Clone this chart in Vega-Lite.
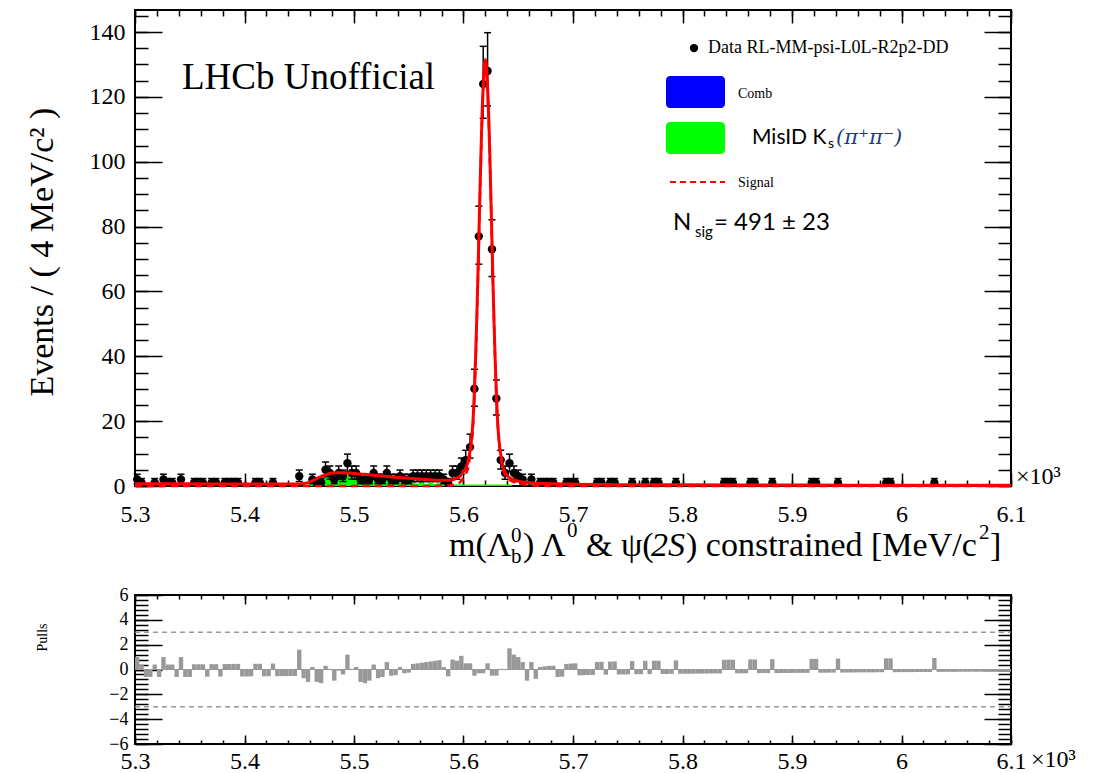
{
"$schema":"https://vega.github.io/schema/vega-lite/v6.json",
"background":"white",
"padding":{"left":23,"top":8,"right":5,"bottom":0},
"spacing":109,
"bounds":"flush",
"config":{"view":{"stroke":"black","strokeWidth":2},"style":{"guide-label":{"font":"Liberation Serif","fill":"black"},"guide-title":{"font":"Liberation Serif","fill":"black","fontWeight":"normal"}},"axis":{"labelFont":"Liberation Serif","titleFont":"Liberation Serif","labelColor":"black","titleColor":"black","tickColor":"black","domain":false,"grid":false,"titleFontWeight":"normal","labelFlush":false,"labelOverlap":false,"tickCap":"butt"}},
"datasets":{
"pts":[
{"m":5.302,"n":2,"lo":0.708,"hi":3.638},{"m":5.306,"n":1,"lo":0.173,"hi":2.3},{"m":5.318,"n":1,"lo":0.173,"hi":2.3},{"m":5.326,"n":2,"lo":0.708,"hi":3.638},{"m":5.330,"n":1,"lo":0.173,"hi":2.3},{"m":5.334,"n":1,"lo":0.173,"hi":2.3},{"m":5.342,"n":2,"lo":0.708,"hi":3.638},{"m":5.354,"n":1,"lo":0.173,"hi":2.3},{"m":5.358,"n":1,"lo":0.173,"hi":2.3},{"m":5.362,"n":1,"lo":0.173,"hi":2.3},{"m":5.370,"n":1,"lo":0.173,"hi":2.3},{"m":5.374,"n":1,"lo":0.173,"hi":2.3},{"m":5.382,"n":1,"lo":0.173,"hi":2.3},{"m":5.386,"n":1,"lo":0.173,"hi":2.3},{"m":5.390,"n":1,"lo":0.173,"hi":2.3},{"m":5.394,"n":1,"lo":0.173,"hi":2.3},{"m":5.410,"n":1,"lo":0.173,"hi":2.3},{"m":5.414,"n":1,"lo":0.173,"hi":2.3},{"m":5.426,"n":1,"lo":0.173,"hi":2.3},
{"m":5.450,"n":3,"lo":1.367,"hi":4.918},{"m":5.462,"n":2,"lo":0.708,"hi":3.638},{"m":5.466,"n":1,"lo":0.173,"hi":2.3},{"m":5.470,"n":1,"lo":0.173,"hi":2.3},{"m":5.474,"n":5,"lo":2.84,"hi":7.404},{"m":5.478,"n":4,"lo":2.086,"hi":6.172},{"m":5.482,"n":2,"lo":0.708,"hi":3.638},{"m":5.486,"n":4,"lo":2.086,"hi":6.172},{"m":5.490,"n":3,"lo":1.367,"hi":4.918},{"m":5.494,"n":7,"lo":4.419,"hi":9.828},{"m":5.498,"n":4,"lo":2.086,"hi":6.172},{"m":5.502,"n":4,"lo":2.086,"hi":6.172},{"m":5.506,"n":2,"lo":0.708,"hi":3.638},{"m":5.510,"n":2,"lo":0.708,"hi":3.638},{"m":5.514,"n":2,"lo":0.708,"hi":3.638},{"m":5.518,"n":4,"lo":2.086,"hi":6.172},{"m":5.522,"n":2,"lo":0.708,"hi":3.638},{"m":5.526,"n":2,"lo":0.708,"hi":3.638},{"m":5.530,"n":4,"lo":2.086,"hi":6.172},{"m":5.534,"n":2,"lo":0.708,"hi":3.638},{"m":5.538,"n":2,"lo":0.708,"hi":3.638},{"m":5.542,"n":3,"lo":1.367,"hi":4.918},{"m":5.546,"n":2,"lo":0.708,"hi":3.638},{"m":5.550,"n":2,"lo":0.708,"hi":3.638},{"m":5.554,"n":3,"lo":1.367,"hi":4.918},{"m":5.558,"n":3,"lo":1.367,"hi":4.918},{"m":5.562,"n":3,"lo":1.367,"hi":4.918},{"m":5.566,"n":3,"lo":1.367,"hi":4.918},{"m":5.570,"n":3,"lo":1.367,"hi":4.918},{"m":5.574,"n":3,"lo":1.367,"hi":4.918},{"m":5.578,"n":3,"lo":1.367,"hi":4.918},{"m":5.582,"n":2,"lo":0.708,"hi":3.638},{"m":5.586,"n":1,"lo":0.173,"hi":2.3},{"m":5.590,"n":4,"lo":2.086,"hi":6.172},{"m":5.594,"n":4,"lo":2.086,"hi":6.172},{"m":5.598,"n":6,"lo":3.62,"hi":8.624},
{"m":5.602,"n":8,"lo":5.232,"hi":11.03},{"m":5.606,"n":12,"lo":8.6,"hi":16.0},{"m":5.610,"n":30,"lo":24.6,"hi":36.0},{"m":5.614,"n":77,"lo":68.4,"hi":86.3},{"m":5.618,"n":124,"lo":113.4,"hi":135.6},{"m":5.622,"n":128,"lo":117.2,"hi":139.8},{"m":5.626,"n":73,"lo":64.6,"hi":82.1},{"m":5.630,"n":27,"lo":21.9,"hi":32.7},{"m":5.634,"n":8,"lo":5.232,"hi":11.03},{"m":5.638,"n":4,"lo":2.086,"hi":6.172},{"m":5.642,"n":7,"lo":4.419,"hi":9.828},{"m":5.646,"n":4,"lo":2.086,"hi":6.172},{"m":5.650,"n":3,"lo":1.367,"hi":4.918},{"m":5.654,"n":2,"lo":0.708,"hi":3.638},{"m":5.662,"n":2,"lo":0.708,"hi":3.638},{"m":5.670,"n":1,"lo":0.173,"hi":2.3},{"m":5.674,"n":1,"lo":0.173,"hi":2.3},{"m":5.678,"n":1,"lo":0.173,"hi":2.3},{"m":5.682,"n":1,"lo":0.173,"hi":2.3},{"m":5.694,"n":1,"lo":0.173,"hi":2.3},{"m":5.698,"n":1,"lo":0.173,"hi":2.3},{"m":5.702,"n":1,"lo":0.173,"hi":2.3},
{"m":5.722,"n":1,"lo":0.173,"hi":2.3},{"m":5.726,"n":1,"lo":0.173,"hi":2.3},{"m":5.734,"n":1,"lo":0.173,"hi":2.3},{"m":5.738,"n":1,"lo":0.173,"hi":2.3},{"m":5.754,"n":1,"lo":0.173,"hi":2.3},{"m":5.766,"n":1,"lo":0.173,"hi":2.3},{"m":5.774,"n":1,"lo":0.173,"hi":2.3},{"m":5.778,"n":1,"lo":0.173,"hi":2.3},{"m":5.794,"n":1,"lo":0.173,"hi":2.3},{"m":5.838,"n":1,"lo":0.173,"hi":2.3},{"m":5.842,"n":1,"lo":0.173,"hi":2.3},{"m":5.846,"n":1,"lo":0.173,"hi":2.3},{"m":5.862,"n":1,"lo":0.173,"hi":2.3},{"m":5.866,"n":1,"lo":0.173,"hi":2.3},{"m":5.882,"n":1,"lo":0.173,"hi":2.3},{"m":5.918,"n":1,"lo":0.173,"hi":2.3},{"m":5.922,"n":1,"lo":0.173,"hi":2.3},{"m":5.942,"n":1,"lo":0.173,"hi":2.3},{"m":5.986,"n":1,"lo":0.173,"hi":2.3},{"m":5.990,"n":1,"lo":0.173,"hi":2.3},{"m":6.030,"n":1,"lo":0.173,"hi":2.3}
],
"curve":[
{"m":5.3,"v":0.7},{"m":5.35,"v":0.66},{"m":5.4,"v":0.62},{"m":5.44,"v":0.59},{"m":5.45,"v":0.6},{"m":5.454,"v":0.75},{"m":5.458,"v":1.05},{"m":5.462,"v":1.6},{"m":5.466,"v":2.3},{"m":5.47,"v":2.95},{"m":5.474,"v":3.45},{"m":5.478,"v":3.85},{"m":5.482,"v":4.05},{"m":5.486,"v":4.1},{"m":5.49,"v":4.1},{"m":5.495,"v":4.0},{"m":5.5,"v":3.85},{"m":5.51,"v":3.6},{"m":5.52,"v":3.25},{"m":5.53,"v":2.95},{"m":5.54,"v":2.65},{"m":5.55,"v":2.4},{"m":5.56,"v":2.15},{"m":5.57,"v":1.9},{"m":5.58,"v":1.75},{"m":5.585,"v":1.75},{"m":5.59,"v":1.95},{"m":5.594,"v":2.5},{"m":5.597,"v":3.1},{"m":5.6,"v":4.5},{"m":5.602,"v":5.5},{"m":5.604,"v":7.3},{"m":5.605,"v":8.9},{"m":5.606,"v":11.0},{"m":5.607,"v":13.3},{"m":5.608,"v":17.0},{"m":5.609,"v":22.0},{"m":5.61,"v":29.7},{"m":5.611,"v":39.2},{"m":5.612,"v":50.3},{"m":5.613,"v":62.8},{"m":5.614,"v":76.5},{"m":5.615,"v":90.2},{"m":5.616,"v":103.4},{"m":5.617,"v":115.0},{"m":5.618,"v":123.7},{"m":5.619,"v":129.5},{"m":5.62,"v":131.5},{"m":5.621,"v":129.3},{"m":5.622,"v":123.2},{"m":5.623,"v":114.3},{"m":5.624,"v":102.6},{"m":5.625,"v":89.3},{"m":5.626,"v":75.6},{"m":5.627,"v":61.9},{"m":5.628,"v":49.3},{"m":5.629,"v":38.2},{"m":5.63,"v":28.7},{"m":5.631,"v":21.0},{"m":5.632,"v":15.8},{"m":5.633,"v":12.2},{"m":5.634,"v":9.8},{"m":5.635,"v":7.6},{"m":5.636,"v":6.0},{"m":5.638,"v":4.2},{"m":5.64,"v":3.2},{"m":5.642,"v":2.6},{"m":5.646,"v":1.9},{"m":5.65,"v":1.5},{"m":5.656,"v":1.15},{"m":5.662,"v":0.95},{"m":5.67,"v":0.85},{"m":5.68,"v":0.72},{"m":5.69,"v":0.62},{"m":5.7,"v":0.55},{"m":5.72,"v":0.45},{"m":5.75,"v":0.4},{"m":5.8,"v":0.35},{"m":5.85,"v":0.31},{"m":5.9,"v":0.28},{"m":5.95,"v":0.25},{"m":6.0,"v":0.23},{"m":6.05,"v":0.21},{"m":6.1,"v":0.2}
],
"sig":[
{"m":5.3,"v":0},{"m":5.575,"v":0},{"m":5.585,"v":0.15},{"m":5.59,"v":0.3},{"m":5.594,"v":0.7},{"m":5.597,"v":1.2},{"m":5.6,"v":2.6},{"m":5.602,"v":3.6},{"m":5.604,"v":5.5},{"m":5.605,"v":7.1},{"m":5.606,"v":9.3},{"m":5.607,"v":11.6},{"m":5.608,"v":15.3},{"m":5.609,"v":20.3},{"m":5.61,"v":28.0},{"m":5.611,"v":37.5},{"m":5.612,"v":48.6},{"m":5.613,"v":61.1},{"m":5.614,"v":74.8},{"m":5.615,"v":88.5},{"m":5.616,"v":101.7},{"m":5.617,"v":113.3},{"m":5.618,"v":122.2},{"m":5.619,"v":128.0},{"m":5.62,"v":130.0},{"m":5.621,"v":128.0},{"m":5.622,"v":122.2},{"m":5.623,"v":113.3},{"m":5.624,"v":101.7},{"m":5.625,"v":88.5},{"m":5.626,"v":74.8},{"m":5.627,"v":61.1},{"m":5.628,"v":48.6},{"m":5.629,"v":37.5},{"m":5.63,"v":28.0},{"m":5.631,"v":20.3},{"m":5.632,"v":15.1},{"m":5.633,"v":11.5},{"m":5.634,"v":9.1},{"m":5.635,"v":6.9},{"m":5.636,"v":5.3},{"m":5.638,"v":3.5},{"m":5.64,"v":2.5},{"m":5.642,"v":1.9},{"m":5.646,"v":1.2},{"m":5.65,"v":0.8},{"m":5.656,"v":0.45},{"m":5.662,"v":0.25},{"m":5.67,"v":0.1},{"m":5.69,"v":0},{"m":6.1,"v":0}
],
"mis":[
{"lo":5.3,"g":0},{"lo":5.456,"g":0.5},{"lo":5.46,"g":1.0},{"lo":5.464,"g":1.6},{"lo":5.468,"g":1.8},{"lo":5.472,"g":2.6},{"lo":5.476,"g":3.0},{"lo":5.48,"g":2.4},{"lo":5.484,"g":3.2},{"lo":5.488,"g":2.6},{"lo":5.492,"g":3.4},{"lo":5.496,"g":2.8},{"lo":5.5,"g":2.2},{"lo":5.504,"g":2.9},{"lo":5.508,"g":2.0},{"lo":5.512,"g":2.5},{"lo":5.516,"g":1.6},{"lo":5.52,"g":2.2},{"lo":5.524,"g":1.4},{"lo":5.528,"g":1.9},{"lo":5.532,"g":1.2},{"lo":5.536,"g":1.7},{"lo":5.54,"g":1.0},{"lo":5.544,"g":1.5},{"lo":5.548,"g":0.9},{"lo":5.552,"g":1.3},{"lo":5.556,"g":0.8},{"lo":5.56,"g":1.2},{"lo":5.564,"g":0.7},{"lo":5.568,"g":1.0},{"lo":5.572,"g":0.6},{"lo":5.576,"g":0.9},{"lo":5.58,"g":0.6},{"lo":5.584,"g":0.7},{"lo":5.588,"g":0.5},{"lo":5.592,"g":0.5},{"lo":5.596,"g":0.45},{"lo":5.644,"g":0},{"lo":6.1,"g":0}
],
"pull":[
{"lo":5.300,"hi":5.304,"p":1.0},{"lo":5.304,"hi":5.308,"p":0.4},{"lo":5.308,"hi":5.312,"p":-0.6},{"lo":5.312,"hi":5.316,"p":-0.6},{"lo":5.316,"hi":5.320,"p":0.4},{"lo":5.320,"hi":5.324,"p":-0.6},{"lo":5.324,"hi":5.328,"p":1.0},{"lo":5.328,"hi":5.332,"p":0.4},{"lo":5.332,"hi":5.336,"p":0.4},{"lo":5.336,"hi":5.340,"p":-0.6},
{"lo":5.340,"hi":5.344,"p":1.0},{"lo":5.344,"hi":5.348,"p":-0.6},{"lo":5.348,"hi":5.352,"p":-0.6},{"lo":5.352,"hi":5.356,"p":0.42},{"lo":5.356,"hi":5.360,"p":0.42},{"lo":5.360,"hi":5.364,"p":0.42},{"lo":5.364,"hi":5.368,"p":-0.58},{"lo":5.368,"hi":5.372,"p":0.43},{"lo":5.372,"hi":5.376,"p":0.43},{"lo":5.376,"hi":5.380,"p":-0.57},
{"lo":5.380,"hi":5.384,"p":0.44},{"lo":5.384,"hi":5.388,"p":0.44},{"lo":5.388,"hi":5.392,"p":0.45},{"lo":5.392,"hi":5.396,"p":0.45},{"lo":5.396,"hi":5.400,"p":-0.56},{"lo":5.400,"hi":5.404,"p":-0.56},{"lo":5.404,"hi":5.408,"p":-0.55},{"lo":5.408,"hi":5.412,"p":0.46},{"lo":5.412,"hi":5.416,"p":0.46},{"lo":5.416,"hi":5.420,"p":-0.55},
{"lo":5.420,"hi":5.424,"p":-0.54},{"lo":5.424,"hi":5.428,"p":0.48},{"lo":5.428,"hi":5.432,"p":-0.54},{"lo":5.432,"hi":5.436,"p":-0.53},{"lo":5.436,"hi":5.440,"p":-0.53},{"lo":5.440,"hi":5.444,"p":-0.52},{"lo":5.444,"hi":5.448,"p":-0.52},{"lo":5.448,"hi":5.452,"p":1.6},{"lo":5.452,"hi":5.456,"p":-0.7},{"lo":5.456,"hi":5.460,"p":-1.0},
{"lo":5.460,"hi":5.464,"p":0.2},{"lo":5.464,"hi":5.468,"p":-1.0},{"lo":5.468,"hi":5.472,"p":-1.1},{"lo":5.472,"hi":5.476,"p":0.3},{"lo":5.476,"hi":5.480,"p":0.05},{"lo":5.480,"hi":5.484,"p":-0.9},{"lo":5.484,"hi":5.488,"p":-0.1},{"lo":5.488,"hi":5.492,"p":-0.4},{"lo":5.492,"hi":5.496,"p":1.2},{"lo":5.496,"hi":5.500,"p":0.05},
{"lo":5.500,"hi":5.504,"p":0.2},{"lo":5.504,"hi":5.508,"p":-1.0},{"lo":5.508,"hi":5.512,"p":-1.1},{"lo":5.512,"hi":5.516,"p":-0.9},{"lo":5.516,"hi":5.520,"p":0.4},{"lo":5.520,"hi":5.524,"p":-0.7},{"lo":5.524,"hi":5.528,"p":-0.6},{"lo":5.528,"hi":5.532,"p":0.6},{"lo":5.532,"hi":5.536,"p":-0.5},{"lo":5.536,"hi":5.540,"p":-0.45},
{"lo":5.540,"hi":5.544,"p":0.2},{"lo":5.544,"hi":5.548,"p":-0.3},{"lo":5.548,"hi":5.552,"p":-0.25},{"lo":5.552,"hi":5.556,"p":0.45},{"lo":5.556,"hi":5.560,"p":0.5},{"lo":5.560,"hi":5.564,"p":0.55},{"lo":5.564,"hi":5.568,"p":0.6},{"lo":5.568,"hi":5.572,"p":0.65},{"lo":5.572,"hi":5.576,"p":0.7},{"lo":5.576,"hi":5.580,"p":0.75},
{"lo":5.580,"hi":5.584,"p":0.2},{"lo":5.584,"hi":5.588,"p":-0.55},{"lo":5.588,"hi":5.592,"p":0.8},{"lo":5.592,"hi":5.596,"p":0.7},{"lo":5.596,"hi":5.600,"p":1.1},{"lo":5.600,"hi":5.604,"p":0.5},{"lo":5.604,"hi":5.608,"p":0.5},{"lo":5.608,"hi":5.612,"p":-0.5},{"lo":5.612,"hi":5.616,"p":-0.3},{"lo":5.616,"hi":5.620,"p":-0.3},
{"lo":5.620,"hi":5.624,"p":0.5},{"lo":5.624,"hi":5.628,"p":-0.5},{"lo":5.628,"hi":5.632,"p":-0.5},{"lo":5.632,"hi":5.636,"p":0.05},{"lo":5.636,"hi":5.640,"p":-0.05},{"lo":5.640,"hi":5.644,"p":1.7},{"lo":5.644,"hi":5.648,"p":1.2},{"lo":5.648,"hi":5.652,"p":1.0},{"lo":5.652,"hi":5.656,"p":0.6},{"lo":5.656,"hi":5.660,"p":-0.9},
{"lo":5.660,"hi":5.664,"p":0.6},{"lo":5.664,"hi":5.668,"p":-0.75},{"lo":5.668,"hi":5.672,"p":0.2},{"lo":5.672,"hi":5.676,"p":0.25},{"lo":5.676,"hi":5.680,"p":0.3},{"lo":5.680,"hi":5.684,"p":0.3},{"lo":5.684,"hi":5.688,"p":-0.6},{"lo":5.688,"hi":5.692,"p":-0.58},{"lo":5.692,"hi":5.696,"p":0.45},{"lo":5.696,"hi":5.700,"p":0.48},
{"lo":5.700,"hi":5.704,"p":0.5},{"lo":5.704,"hi":5.708,"p":-0.47},{"lo":5.708,"hi":5.712,"p":-0.46},{"lo":5.712,"hi":5.716,"p":-0.45},{"lo":5.716,"hi":5.720,"p":-0.44},{"lo":5.720,"hi":5.724,"p":0.6},{"lo":5.724,"hi":5.728,"p":0.62},{"lo":5.728,"hi":5.732,"p":-0.42},{"lo":5.732,"hi":5.736,"p":0.64},{"lo":5.736,"hi":5.740,"p":0.65},
{"lo":5.740,"hi":5.744,"p":-0.4},{"lo":5.744,"hi":5.748,"p":-0.4},{"lo":5.748,"hi":5.752,"p":-0.39},{"lo":5.752,"hi":5.756,"p":0.68},{"lo":5.756,"hi":5.760,"p":-0.38},{"lo":5.760,"hi":5.764,"p":-0.38},{"lo":5.764,"hi":5.768,"p":0.7},{"lo":5.768,"hi":5.772,"p":-0.37},{"lo":5.772,"hi":5.776,"p":0.71},{"lo":5.776,"hi":5.780,"p":0.71},
{"lo":5.780,"hi":5.784,"p":-0.36},{"lo":5.784,"hi":5.788,"p":-0.36},{"lo":5.788,"hi":5.792,"p":-0.35},{"lo":5.792,"hi":5.796,"p":0.74},{"lo":5.796,"hi":5.800,"p":-0.35},{"lo":5.800,"hi":5.804,"p":-0.34},{"lo":5.804,"hi":5.808,"p":-0.34},{"lo":5.808,"hi":5.812,"p":-0.34},{"lo":5.812,"hi":5.816,"p":-0.33},{"lo":5.816,"hi":5.820,"p":-0.33},
{"lo":5.820,"hi":5.824,"p":-0.33},{"lo":5.824,"hi":5.828,"p":-0.32},{"lo":5.828,"hi":5.832,"p":-0.32},{"lo":5.832,"hi":5.836,"p":-0.32},{"lo":5.836,"hi":5.840,"p":0.78},{"lo":5.840,"hi":5.844,"p":0.79},{"lo":5.844,"hi":5.848,"p":0.79},{"lo":5.848,"hi":5.852,"p":-0.31},{"lo":5.852,"hi":5.856,"p":-0.31},{"lo":5.856,"hi":5.860,"p":-0.3},
{"lo":5.860,"hi":5.864,"p":0.81},{"lo":5.864,"hi":5.868,"p":0.81},{"lo":5.868,"hi":5.872,"p":-0.3},{"lo":5.872,"hi":5.876,"p":-0.29},{"lo":5.876,"hi":5.880,"p":-0.29},{"lo":5.880,"hi":5.884,"p":0.83},{"lo":5.884,"hi":5.888,"p":-0.29},{"lo":5.888,"hi":5.892,"p":-0.28},{"lo":5.892,"hi":5.896,"p":-0.28},{"lo":5.896,"hi":5.900,"p":-0.28},
{"lo":5.900,"hi":5.904,"p":-0.27},{"lo":5.904,"hi":5.908,"p":-0.27},{"lo":5.908,"hi":5.912,"p":-0.27},{"lo":5.912,"hi":5.916,"p":-0.27},{"lo":5.916,"hi":5.920,"p":0.86},{"lo":5.920,"hi":5.924,"p":0.86},{"lo":5.924,"hi":5.928,"p":-0.26},{"lo":5.928,"hi":5.932,"p":-0.26},{"lo":5.932,"hi":5.936,"p":-0.25},{"lo":5.936,"hi":5.940,"p":-0.25},
{"lo":5.940,"hi":5.944,"p":0.88},{"lo":5.944,"hi":5.948,"p":-0.25},{"lo":5.948,"hi":5.952,"p":-0.24},{"lo":5.952,"hi":5.956,"p":-0.24},{"lo":5.956,"hi":5.960,"p":-0.24},{"lo":5.960,"hi":5.964,"p":-0.23},{"lo":5.964,"hi":5.968,"p":-0.23},{"lo":5.968,"hi":5.972,"p":-0.23},{"lo":5.972,"hi":5.976,"p":-0.23},{"lo":5.976,"hi":5.980,"p":-0.22},
{"lo":5.980,"hi":5.984,"p":-0.22},{"lo":5.984,"hi":5.988,"p":0.9},{"lo":5.988,"hi":5.992,"p":0.9},{"lo":5.992,"hi":5.996,"p":-0.22},{"lo":5.996,"hi":6.000,"p":-0.21},{"lo":6.000,"hi":6.004,"p":-0.21},{"lo":6.004,"hi":6.008,"p":-0.21},{"lo":6.008,"hi":6.012,"p":-0.21},{"lo":6.012,"hi":6.016,"p":-0.2},{"lo":6.016,"hi":6.020,"p":-0.2},
{"lo":6.020,"hi":6.024,"p":-0.2},{"lo":6.024,"hi":6.028,"p":-0.2},{"lo":6.028,"hi":6.032,"p":0.93},{"lo":6.032,"hi":6.036,"p":-0.19},{"lo":6.036,"hi":6.040,"p":-0.19},{"lo":6.040,"hi":6.044,"p":-0.19},{"lo":6.044,"hi":6.048,"p":-0.19},{"lo":6.048,"hi":6.052,"p":-0.19},{"lo":6.052,"hi":6.056,"p":-0.18},{"lo":6.056,"hi":6.060,"p":-0.18},
{"lo":6.060,"hi":6.064,"p":-0.18},{"lo":6.064,"hi":6.068,"p":-0.18},{"lo":6.068,"hi":6.072,"p":-0.18},{"lo":6.072,"hi":6.076,"p":-0.18},{"lo":6.076,"hi":6.080,"p":-0.17},{"lo":6.080,"hi":6.084,"p":-0.17},{"lo":6.084,"hi":6.088,"p":-0.17},{"lo":6.088,"hi":6.092,"p":-0.17},{"lo":6.092,"hi":6.096,"p":-0.17},{"lo":6.096,"hi":6.100,"p":-0.17}
]
},
"vconcat":[
{
"width":876,"height":476,
"resolve":{"axis":{"x":"independent","y":"independent"}},
"layer":[
{"data":{"name":"mis"},"mark":{"type":"area","color":"#00ff00","interpolate":"step-after","opacity":1},
"encoding":{
"x":{"field":"lo","type":"quantitative","scale":{"domain":[5.3,6.1],"nice":false,"zero":false},"axis":{"orient":"bottom","values":[5.3,5.4,5.5,5.6,5.7,5.8,5.9,6,6.1],"format":"~g","ticks":false,"tickSize":0,"labelFont":"Liberation Serif","labelFontSize":24,"labelPadding":16,"title":null}},
"y":{"field":"g","type":"quantitative","scale":{"domain":[0,146.8],"nice":false,"zero":false},"axis":{"orient":"left","values":[0,20,40,60,80,100,120,140],"ticks":false,"tickSize":0,"labelFont":"Liberation Serif","labelFontSize":24,"labelPadding":10,"title":"Events / ( 4 MeV/c² )","titleFont":"Liberation Serif","titleFontSize":34,"titleAngle":270,"titleX":-93,"titleY":386,"titleAlign":"left","titleBaseline":"middle"}}}},
{"data":{"name":"pts"},"mark":{"type":"rule","color":"black","strokeWidth":1.5},
"encoding":{
"x":{"field":"m","type":"quantitative","scale":{"domain":[5.3,6.1],"nice":false,"zero":false},"axis":{"orient":"bottom","values":[5.3,5.4,5.5,5.6,5.7,5.8,5.9,6,6.1],"labels":false,"tickSize":-13,"tickWidth":1.5,"title":null}},
"y":{"field":"lo","type":"quantitative","scale":{"domain":[0,146.8],"nice":false,"zero":false},"axis":{"orient":"left","values":[0,20,40,60,80,100,120,140],"labels":false,"tickSize":-27,"tickWidth":1.5,"title":null}},
"y2":{"field":"hi"}}},
{"data":{"name":"pts"},"mark":{"type":"tick","orient":"horizontal","size":7,"thickness":1.5,"color":"black","opacity":1},
"encoding":{
"x":{"field":"m","type":"quantitative","scale":{"domain":[5.3,6.1],"nice":false,"zero":false},"axis":{"orient":"bottom","values":[5.3,5.32,5.34,5.36,5.38,5.4,5.42,5.44,5.46,5.48,5.5,5.52,5.54,5.56,5.58,5.6,5.62,5.64,5.66,5.68,5.7,5.72,5.74,5.76,5.78,5.8,5.82,5.84,5.86,5.88,5.9,5.92,5.94,5.96,5.98,6,6.02,6.04,6.06,6.08,6.1],"labels":false,"tickSize":-6,"tickWidth":1.5,"title":null}},
"y":{"field":"lo","type":"quantitative","scale":{"domain":[0,146.8],"nice":false,"zero":false},"axis":{"orient":"left","values":[0,5,10,15,20,25,30,35,40,45,50,55,60,65,70,75,80,85,90,95,100,105,110,115,120,125,130,135,140,145],"labels":false,"tickSize":-13,"tickWidth":1.5,"title":null}}}},
{"data":{"name":"pts"},"mark":{"type":"tick","orient":"horizontal","size":7,"thickness":1.5,"color":"black","opacity":1},
"encoding":{
"x":{"field":"m","type":"quantitative","scale":{"domain":[5.3,6.1],"nice":false,"zero":false},"axis":{"orient":"top","values":[5.3,5.4,5.5,5.6,5.7,5.8,5.9,6,6.1],"labels":false,"tickSize":-13,"tickWidth":1.5,"title":null}},
"y":{"field":"hi","type":"quantitative","scale":{"domain":[0,146.8],"nice":false,"zero":false},"axis":{"orient":"right","values":[0,20,40,60,80,100,120,140],"labels":false,"tickSize":-27,"tickWidth":1.5,"title":null}}}},
{"data":{"name":"pts"},"mark":{"type":"point","filled":true,"shape":"circle","size":70,"color":"black","opacity":1},
"encoding":{
"x":{"field":"m","type":"quantitative","scale":{"domain":[5.3,6.1],"nice":false,"zero":false},"axis":{"orient":"top","values":[5.3,5.32,5.34,5.36,5.38,5.4,5.42,5.44,5.46,5.48,5.5,5.52,5.54,5.56,5.58,5.6,5.62,5.64,5.66,5.68,5.7,5.72,5.74,5.76,5.78,5.8,5.82,5.84,5.86,5.88,5.9,5.92,5.94,5.96,5.98,6,6.02,6.04,6.06,6.08,6.1],"labels":false,"tickSize":-6,"tickWidth":1.5,"title":null}},
"y":{"field":"n","type":"quantitative","scale":{"domain":[0,146.8],"nice":false,"zero":false},"axis":{"orient":"right","values":[0,5,10,15,20,25,30,35,40,45,50,55,60,65,70,75,80,85,90,95,100,105,110,115,120,125,130,135,140,145],"labels":false,"tickSize":-13,"tickWidth":1.5,"title":null}}}},
{"data":{"name":"sig"},"mark":{"type":"line","color":"#ff0000","strokeWidth":2.5,"strokeDash":[7,5],"interpolate":"monotone"},
"encoding":{"x":{"field":"m","type":"quantitative","scale":{"domain":[5.3,6.1],"nice":false,"zero":false},"axis":null},"y":{"field":"v","type":"quantitative","scale":{"domain":[0,146.8],"nice":false,"zero":false},"axis":null}}},
{"data":{"name":"curve"},"mark":{"type":"line","color":"#ff0000","strokeWidth":3,"interpolate":"monotone"},
"encoding":{"x":{"field":"m","type":"quantitative","scale":{"domain":[5.3,6.1],"nice":false,"zero":false},"axis":null},"y":{"field":"v","type":"quantitative","scale":{"domain":[0,146.8],"nice":false,"zero":false},"axis":null}}},
{"data":{"values":[{}]},"mark":{"type":"point","filled":true,"shape":"circle","size":70,"color":"black","opacity":1},
"encoding":{"x":{"datum":5.8105,"type":"quantitative","scale":{"domain":[5.3,6.1],"nice":false,"zero":false},"axis":null},"y":{"datum":135.06,"type":"quantitative","scale":{"domain":[0,146.8],"nice":false,"zero":false},"axis":null}}},
{"data":{"values":[{}]},"mark":{"type":"rect","color":"#0000ff","cornerRadius":4},
"encoding":{"x":{"datum":5.78493,"type":"quantitative","scale":{"domain":[5.3,6.1],"nice":false,"zero":false},"axis":null},"x2":{"datum":5.83881},"y":{"datum":126.43,"type":"quantitative","scale":{"domain":[0,146.8],"nice":false,"zero":false},"axis":null},"y2":{"datum":116.56}}},
{"data":{"values":[{}]},"mark":{"type":"rect","color":"#00ff00","cornerRadius":4},
"encoding":{"x":{"datum":5.78493,"type":"quantitative","scale":{"domain":[5.3,6.1],"nice":false,"zero":false},"axis":null},"x2":{"datum":5.83881},"y":{"datum":112.24,"type":"quantitative","scale":{"domain":[0,146.8],"nice":false,"zero":false},"axis":null},"y2":{"datum":102.37}}},
{"data":{"values":[{}]},"mark":{"type":"rule","color":"#ff0000","strokeWidth":2,"strokeDash":[6,4]},
"encoding":{"x":{"datum":5.78858,"type":"quantitative","scale":{"domain":[5.3,6.1],"nice":false,"zero":false},"axis":null},"x2":{"datum":5.83881},"y":{"datum":93.74,"type":"quantitative","scale":{"domain":[0,146.8],"nice":false,"zero":false},"axis":null}}},
{"data":{"values":[{}]},"mark":{"type":"text","text":"Data RL-MM-psi-L0L-R2p2-DD","align":"left","baseline":"middle","font":"Liberation Serif","fontSize":18,"color":"black"},
"encoding":{"x":{"datum":5.82329,"type":"quantitative","scale":{"domain":[5.3,6.1],"nice":false,"zero":false},"axis":null},"y":{"datum":135.06,"type":"quantitative","scale":{"domain":[0,146.8],"nice":false,"zero":false},"axis":null}}},
{"data":{"values":[{}]},"mark":{"type":"text","text":"Comb","align":"left","baseline":"middle","font":"Liberation Serif","fontSize":14,"color":"black"},
"encoding":{"x":{"datum":5.85068,"type":"quantitative","scale":{"domain":[5.3,6.1],"nice":false,"zero":false},"axis":null},"y":{"datum":120.88,"type":"quantitative","scale":{"domain":[0,146.8],"nice":false,"zero":false},"axis":null}}},
{"data":{"values":[{}]},"mark":{"type":"text","text":"MisID K","align":"left","baseline":"middle","font":"Lato","fontSize":21,"color":"black"},
"encoding":{"x":{"datum":5.86347,"type":"quantitative","scale":{"domain":[5.3,6.1],"nice":false,"zero":false},"axis":null},"y":{"datum":107.31,"type":"quantitative","scale":{"domain":[0,146.8],"nice":false,"zero":false},"axis":null}}},
{"data":{"values":[{}]},"mark":{"type":"text","text":"s","align":"left","baseline":"middle","font":"Lato","fontSize":14,"color":"black"},
"encoding":{"x":{"datum":5.93288,"type":"quantitative","scale":{"domain":[5.3,6.1],"nice":false,"zero":false},"axis":null},"y":{"datum":105.46,"type":"quantitative","scale":{"domain":[0,146.8],"nice":false,"zero":false},"axis":null}}},
{"data":{"values":[{}]},"mark":{"type":"text","text":"(π⁺π⁻)","align":"left","baseline":"middle","font":"DejaVu Serif","fontStyle":"italic","fontSize":21,"color":"#1f3a78"},
"encoding":{"x":{"datum":5.94018,"type":"quantitative","scale":{"domain":[5.3,6.1],"nice":false,"zero":false},"axis":null},"y":{"datum":107.31,"type":"quantitative","scale":{"domain":[0,146.8],"nice":false,"zero":false},"axis":null}}},
{"data":{"values":[{}]},"mark":{"type":"text","text":"Signal","align":"left","baseline":"middle","font":"Liberation Serif","fontSize":14,"color":"black"},
"encoding":{"x":{"datum":5.85068,"type":"quantitative","scale":{"domain":[5.3,6.1],"nice":false,"zero":false},"axis":null},"y":{"datum":93.43,"type":"quantitative","scale":{"domain":[0,146.8],"nice":false,"zero":false},"axis":null}}},
{"data":{"values":[{}]},"mark":{"type":"text","text":"N","align":"left","baseline":"middle","font":"Lato","fontSize":24,"color":"black"},
"encoding":{"x":{"datum":5.79132,"type":"quantitative","scale":{"domain":[5.3,6.1],"nice":false,"zero":false},"axis":null},"y":{"datum":81.1,"type":"quantitative","scale":{"domain":[0,146.8],"nice":false,"zero":false},"axis":null}}},
{"data":{"values":[{}]},"mark":{"type":"text","text":"sig","align":"left","baseline":"middle","font":"Lato","fontSize":15,"color":"black"},
"encoding":{"x":{"datum":5.81142,"type":"quantitative","scale":{"domain":[5.3,6.1],"nice":false,"zero":false},"axis":null},"y":{"datum":78.32,"type":"quantitative","scale":{"domain":[0,146.8],"nice":false,"zero":false},"axis":null}}},
{"data":{"values":[{}]},"mark":{"type":"text","text":"= 491 ± 23","align":"left","baseline":"middle","font":"Lato","fontSize":24,"color":"black"},
"encoding":{"x":{"datum":5.82877,"type":"quantitative","scale":{"domain":[5.3,6.1],"nice":false,"zero":false},"axis":null},"y":{"datum":81.1,"type":"quantitative","scale":{"domain":[0,146.8],"nice":false,"zero":false},"axis":null}}},
{"data":{"values":[{}]},"mark":{"type":"text","text":"LHCb Unofficial","align":"left","baseline":"middle","font":"Liberation Serif","fontSize":37,"color":"black"},
"encoding":{"x":{"datum":5.34292,"type":"quantitative","scale":{"domain":[5.3,6.1],"nice":false,"zero":false},"axis":null},"y":{"datum":125.81,"type":"quantitative","scale":{"domain":[0,146.8],"nice":false,"zero":false},"axis":null}}},
{"data":{"values":[{}]},"mark":{"type":"text","text":"×10³","align":"left","baseline":"middle","font":"Liberation Serif","fontSize":24,"color":"black"},
"encoding":{"x":{"datum":6.10457,"type":"quantitative","scale":{"domain":[5.3,6.1],"nice":false,"zero":false},"axis":null},"y":{"datum":2.78,"type":"quantitative","scale":{"domain":[0,146.8],"nice":false,"zero":false},"axis":null}}},
{"data":{"values":[{}]},"mark":{"type":"text","text":"m(Λ","align":"left","baseline":"middle","font":"Liberation Serif","fontSize":34,"color":"black"},
"encoding":{"x":{"datum":5.58676,"type":"quantitative","scale":{"domain":[5.3,6.1],"nice":false,"zero":false},"axis":null},"y":{"datum":-18.5,"type":"quantitative","scale":{"domain":[0,146.8],"nice":false,"zero":false},"axis":null}}},
{"data":{"values":[{}]},"mark":{"type":"text","text":"0","align":"left","baseline":"middle","font":"Liberation Serif","fontSize":21,"color":"black"},
"encoding":{"x":{"datum":5.64338,"type":"quantitative","scale":{"domain":[5.3,6.1],"nice":false,"zero":false},"axis":null},"y":{"datum":-15.42,"type":"quantitative","scale":{"domain":[0,146.8],"nice":false,"zero":false},"axis":null}}},
{"data":{"values":[{}]},"mark":{"type":"text","text":"b","align":"left","baseline":"middle","font":"Liberation Serif","fontSize":21,"color":"black"},
"encoding":{"x":{"datum":5.64338,"type":"quantitative","scale":{"domain":[5.3,6.1],"nice":false,"zero":false},"axis":null},"y":{"datum":-21.89,"type":"quantitative","scale":{"domain":[0,146.8],"nice":false,"zero":false},"axis":null}}},
{"data":{"values":[{}]},"mark":{"type":"text","text":") Λ","align":"left","baseline":"middle","font":"Liberation Serif","fontSize":34,"color":"black"},
"encoding":{"x":{"datum":5.65434,"type":"quantitative","scale":{"domain":[5.3,6.1],"nice":false,"zero":false},"axis":null},"y":{"datum":-18.5,"type":"quantitative","scale":{"domain":[0,146.8],"nice":false,"zero":false},"axis":null}}},
{"data":{"values":[{}]},"mark":{"type":"text","text":"0","align":"left","baseline":"middle","font":"Liberation Serif","fontSize":21,"color":"black"},
"encoding":{"x":{"datum":5.69452,"type":"quantitative","scale":{"domain":[5.3,6.1],"nice":false,"zero":false},"axis":null},"y":{"datum":-13.9,"type":"quantitative","scale":{"domain":[0,146.8],"nice":false,"zero":false},"axis":null}}},
{"data":{"values":[{}]},"mark":{"type":"text","text":"&  ψ(","align":"left","baseline":"middle","font":"Liberation Serif","fontSize":34,"color":"black"},
"encoding":{"x":{"datum":5.71187,"type":"quantitative","scale":{"domain":[5.3,6.1],"nice":false,"zero":false},"axis":null},"y":{"datum":-18.5,"type":"quantitative","scale":{"domain":[0,146.8],"nice":false,"zero":false},"axis":null}}},
{"data":{"values":[{}]},"mark":{"type":"text","text":"2S","align":"left","baseline":"middle","font":"Liberation Serif","fontStyle":"italic","fontSize":34,"color":"black"},
"encoding":{"x":{"datum":5.77123,"type":"quantitative","scale":{"domain":[5.3,6.1],"nice":false,"zero":false},"axis":null},"y":{"datum":-18.5,"type":"quantitative","scale":{"domain":[0,146.8],"nice":false,"zero":false},"axis":null}}},
{"data":{"values":[{}]},"mark":{"type":"text","text":") constrained [MeV/c","align":"left","baseline":"middle","font":"Liberation Serif","fontSize":34,"color":"black"},
"encoding":{"x":{"datum":5.8032,"type":"quantitative","scale":{"domain":[5.3,6.1],"nice":false,"zero":false},"axis":null},"y":{"datum":-18.5,"type":"quantitative","scale":{"domain":[0,146.8],"nice":false,"zero":false},"axis":null}}},
{"data":{"values":[{}]},"mark":{"type":"text","text":"2","align":"left","baseline":"middle","font":"Liberation Serif","fontSize":21,"color":"black"},
"encoding":{"x":{"datum":6.07078,"type":"quantitative","scale":{"domain":[5.3,6.1],"nice":false,"zero":false},"axis":null},"y":{"datum":-14.5,"type":"quantitative","scale":{"domain":[0,146.8],"nice":false,"zero":false},"axis":null}}},
{"data":{"values":[{}]},"mark":{"type":"text","text":"]","align":"left","baseline":"middle","font":"Liberation Serif","fontSize":34,"color":"black"},
"encoding":{"x":{"datum":6.08082,"type":"quantitative","scale":{"domain":[5.3,6.1],"nice":false,"zero":false},"axis":null},"y":{"datum":-18.5,"type":"quantitative","scale":{"domain":[0,146.8],"nice":false,"zero":false},"axis":null}}}
]
},
{
"width":876,"height":149,
"resolve":{"axis":{"x":"independent","y":"independent"}},
"layer":[
{"data":{"name":"pull"},"mark":{"type":"rect","color":"#999999"},
"encoding":{
"x":{"field":"lo","type":"quantitative","scale":{"domain":[5.3,6.1],"nice":false,"zero":false},"axis":{"orient":"bottom","values":[5.3,5.4,5.5,5.6,5.7,5.8,5.9,6,6.1],"format":"~g","ticks":false,"tickSize":0,"labelFont":"Liberation Serif","labelFontSize":24,"labelPadding":5,"title":null}},
"x2":{"field":"hi"},
"y":{"field":"p","type":"quantitative","scale":{"domain":[-6,6],"nice":false,"zero":false},"axis":{"orient":"left","values":[-6,-4,-2,0,2,4,6],"ticks":false,"tickSize":0,"labelFont":"Liberation Serif","labelFontSize":18,"labelPadding":7,"title":"Pulls","titleFont":"Liberation Serif","titleFontSize":14,"titleAngle":270,"titleX":-93,"titleY":42,"titleAlign":"center","titleBaseline":"middle"}},
"y2":{"datum":0}}},
{"data":{"values":[{}]},"mark":{"type":"rule","color":"#999999","strokeWidth":1},
"encoding":{
"x":{"datum":5.3,"type":"quantitative","scale":{"domain":[5.3,6.1],"nice":false,"zero":false},"axis":{"orient":"bottom","values":[5.3,5.4,5.5,5.6,5.7,5.8,5.9,6,6.1],"labels":false,"tickSize":-9,"tickWidth":1.5,"title":null}},
"x2":{"datum":6.1},
"y":{"datum":0,"type":"quantitative","scale":{"domain":[-6,6],"nice":false,"zero":false},"axis":{"orient":"left","values":[-6,-4,-2,0,2,4,6],"labels":false,"tickSize":-27,"tickWidth":1.5,"title":null}}}},
{"data":{"values":[{}]},"mark":{"type":"rule","color":"#999999","strokeWidth":1.5,"strokeDash":[5,4]},
"encoding":{
"x":{"datum":5.3,"type":"quantitative","scale":{"domain":[5.3,6.1],"nice":false,"zero":false},"axis":{"orient":"bottom","values":[5.3,5.32,5.34,5.36,5.38,5.4,5.42,5.44,5.46,5.48,5.5,5.52,5.54,5.56,5.58,5.6,5.62,5.64,5.66,5.68,5.7,5.72,5.74,5.76,5.78,5.8,5.82,5.84,5.86,5.88,5.9,5.92,5.94,5.96,5.98,6,6.02,6.04,6.06,6.08,6.1],"labels":false,"tickSize":-4,"tickWidth":1.5,"title":null}},
"x2":{"datum":6.1},
"y":{"datum":3,"type":"quantitative","scale":{"domain":[-6,6],"nice":false,"zero":false},"axis":{"orient":"left","values":[-6,-5.6,-5.2,-4.8,-4.4,-4,-3.6,-3.2,-2.8,-2.4,-2,-1.6,-1.2,-0.8,-0.4,0,0.4,0.8,1.2,1.6,2,2.4,2.8,3.2,3.6,4,4.4,4.8,5.2,5.6,6],"labels":false,"tickSize":-13,"tickWidth":1.5,"title":null}}}},
{"data":{"values":[{}]},"mark":{"type":"rule","color":"#999999","strokeWidth":1.5,"strokeDash":[5,4]},
"encoding":{
"x":{"datum":5.3,"type":"quantitative","scale":{"domain":[5.3,6.1],"nice":false,"zero":false},"axis":{"orient":"top","values":[5.3,5.4,5.5,5.6,5.7,5.8,5.9,6,6.1],"labels":false,"tickSize":-9,"tickWidth":1.5,"title":null}},
"x2":{"datum":6.1},
"y":{"datum":-3,"type":"quantitative","scale":{"domain":[-6,6],"nice":false,"zero":false},"axis":{"orient":"right","values":[-6,-4,-2,0,2,4,6],"labels":false,"tickSize":-27,"tickWidth":1.5,"title":null}}}},
{"data":{"values":[{}]},"mark":{"type":"text","text":"×10³","align":"left","baseline":"middle","font":"Liberation Serif","fontSize":24,"color":"black"},
"encoding":{
"x":{"datum":6.11826,"type":"quantitative","scale":{"domain":[5.3,6.1],"nice":false,"zero":false},"axis":{"orient":"top","values":[5.3,5.32,5.34,5.36,5.38,5.4,5.42,5.44,5.46,5.48,5.5,5.52,5.54,5.56,5.58,5.6,5.62,5.64,5.66,5.68,5.7,5.72,5.74,5.76,5.78,5.8,5.82,5.84,5.86,5.88,5.9,5.92,5.94,5.96,5.98,6,6.02,6.04,6.06,6.08,6.1],"labels":false,"tickSize":-4,"tickWidth":1.5,"title":null}},
"y":{"datum":-7.3,"type":"quantitative","scale":{"domain":[-6,6],"nice":false,"zero":false},"axis":{"orient":"right","values":[-6,-5.6,-5.2,-4.8,-4.4,-4,-3.6,-3.2,-2.8,-2.4,-2,-1.6,-1.2,-0.8,-0.4,0,0.4,0.8,1.2,1.6,2,2.4,2.8,3.2,3.6,4,4.4,4.8,5.2,5.6,6],"labels":false,"tickSize":-13,"tickWidth":1.5,"title":null}}}}
]
}
]
}
